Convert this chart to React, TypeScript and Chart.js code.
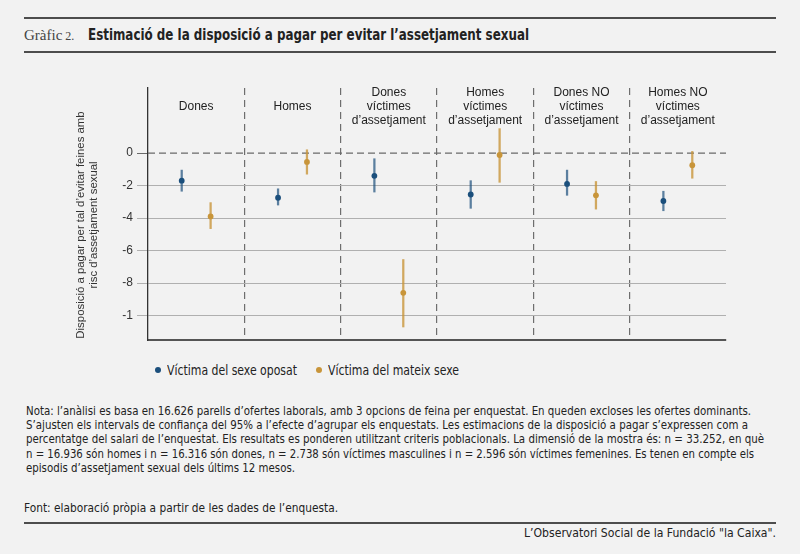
import { useEffect, useLayoutEffect, useRef } from "react";
import type { ReactNode, CSSProperties } from "react";
import { Chart, registerables } from "chart.js";

Chart.register(...registerables);

// panel headers (one panel per group)
const panels = [
  ["Dones"],
  ["Homes"],
  ["Dones", "víctimes", "d’assetjament"],
  ["Homes", "víctimes", "d’assetjament"],
  ["Dones NO", "víctimes", "d’assetjament"],
  ["Homes NO", "víctimes", "d’assetjament"],
];

// Víctima del sexe oposat
const oposat = [-1.7, -2.75, -1.4, -2.55, -1.9, -2.95];
const oposatLo = [-2.35, -3.2, -2.4, -3.4, -2.6, -3.55];
const oposatHi = [-1.05, -2.2, -0.35, -1.7, -1.05, -2.35];

// Víctima del mateix sexe
const mateix = [-3.9, -0.55, -8.6, -0.12, -2.6, -0.75];
const mateixLo = [-4.65, -1.3, -10.7, -1.8, -3.45, -1.55];
const mateixHi = [-3.05, 0.2, -6.55, 1.5, -1.75, 0.1];

const yTickValues = [0, -2, -4, -6, -8, -10];
const yTickLabels = ["0", "-2", "-4", "-6", "-8", "-1"];
const yTitle = ["Disposició a pagar per tal d’evitar feines amb", "risc d’assetjament sexual"];
const legendLabels = ["Víctima del sexe oposat", "Víctima del mateix sexe"];

const notes = [
  "Nota: l’anàlisi es basa en 16.626 parells d’ofertes laborals, amb 3 opcions de feina per enquestat. En queden excloses les ofertes dominants.",
  "S’ajusten els intervals de confiança del 95% a l’efecte d’agrupar els enquestats. Les estimacions de la disposició a pagar s’expressen com a",
  "percentatge del salari de l’enquestat. Els resultats es ponderen utilitzant criteris poblacionals. La dimensió de la mostra és: n = 33.252, en què",
  "n = 16.936 són homes i n = 16.316 són dones, n = 2.738 són víctimes masculines i n = 2.596 són víctimes femenines. Es tenen en compte els",
  "episodis d’assetjament sexual dels últims 12 mesos.",
];
const noteWidths = [725, 722, 738, 728, 269];
const source = "Font: elaboració pròpia a partir de les dades de l’enquesta.";
const footer = "L’Observatori Social de la Fundació \"la Caixa\".";

const BLUE = "#1b4f7c";
const GOLD = "#c8953a";
const BLUE_BAR = "rgba(27,79,124,0.7)";
const GOLD_BAR = "rgba(200,149,58,0.8)";
const OFF_B = 0.35;
const OFF_G = 0.65;
const HEADER_Y = 2.85;

const SANS = '"Liberation Sans", Arial, sans-serif';
const NARROW = '"Liberation Sans Narrow", "DejaVu Sans Condensed", "Roboto", sans-serif';

// squeeze a single line of text to a given width
function Fit({ width, children, style }: { width: number; children: ReactNode; style?: CSSProperties }) {
  const ref = useRef<HTMLSpanElement | null>(null);
  useLayoutEffect(() => {
    const el = ref.current;
    if (!el) return;
    el.style.transform = "none";
    const w = el.getBoundingClientRect().width;
    if (w > 0) el.style.transform = `scaleX(${width / w})`;
  }, [width]);
  return (
    <span
      ref={ref}
      style={{ display: "inline-block", transformOrigin: "left center", whiteSpace: "nowrap", ...style }}
    >
      {children}
    </span>
  );
}

const textPlugin = {
  id: "panelText",
  afterDraw(chart: any) {
    const { ctx, chartArea, scales } = chart;
    const x = scales.x;
    const y = scales.y;
    ctx.save();
    ctx.fillStyle = "#222";
    ctx.font = "12px " + SANS;
    ctx.textAlign = "center";
    ctx.textBaseline = "middle";
    const lh = 13.8;
    const yc = y.getPixelForValue(HEADER_Y);
    panels.forEach((lines, i) => {
      const cx = x.getPixelForValue(i + 0.5);
      const start = yc - ((lines.length - 1) * lh) / 2;
      lines.forEach((t, j) => ctx.fillText(t, cx, start + j * lh));
    });
    // y title
    ctx.fillStyle = "#333";
    ctx.font = "11.4px " + SANS;
    const my = (chartArea.top + chartArea.bottom) / 2 + 11;
    yTitle.forEach((t, j) => {
      ctx.save();
      ctx.translate(80.5 + j * 13.5, my);
      ctx.rotate(-Math.PI / 2);
      ctx.fillText(t, 0, 0);
      ctx.restore();
    });
    ctx.restore();
  },
};

function Plot() {
  const canvasRef = useRef<HTMLCanvasElement | null>(null);

  useEffect(() => {
    if (!canvasRef.current) return;
    const errBar = (lo: number[], hi: number[], off: number, color: string) => ({
      type: "bar" as const,
      data: lo.map((l, i) => ({ x: i + off, y: [l, hi[i]] })),
      backgroundColor: color,
      borderWidth: 0,
      barThickness: 1.6,
      grouped: false,
      order: 5,
    });
    const chart = new Chart(canvasRef.current, {
      type: "scatter",
      data: {
        datasets: [
          {
            type: "line",
            data: [
              { x: 0, y: 0 },
              { x: 6, y: 0 },
            ],
            borderColor: "#6a6a6a",
            borderWidth: 1.2,
            borderDash: [7, 4],
            pointRadius: 0,
            order: 10,
          },
          errBar(oposatLo, oposatHi, OFF_B, BLUE_BAR),
          errBar(mateixLo, mateixHi, OFF_G, GOLD_BAR),
          {
            label: legendLabels[0],
            data: oposat.map((v, i) => ({ x: i + OFF_B, y: v })),
            backgroundColor: BLUE,
            borderWidth: 0,
            pointRadius: 2.9,
            order: 1,
          },
          {
            label: legendLabels[1],
            data: mateix.map((v, i) => ({ x: i + OFF_G, y: v })),
            backgroundColor: GOLD,
            borderWidth: 0,
            pointRadius: 2.9,
            order: 1,
          },
        ] as any,
      },
      options: {
        animation: false,
        responsive: true,
        maintainAspectRatio: false,
        layout: { padding: { top: 28, right: 74, bottom: 20, left: 0 } },
        plugins: { legend: { display: false }, tooltip: { enabled: false } },
        scales: {
          x: {
            type: "linear",
            min: 0,
            max: 6,
            offset: false,
            afterBuildTicks: (axis: any) => {
              axis.ticks = [1, 2, 3, 4, 5].map((v) => ({ value: v }));
            },
            ticks: { display: false },
            grid: { color: "#6e6e6e", lineWidth: 1.2, drawTicks: false, offset: false },
            border: { display: true, color: "#555", width: 2, dash: [7, 5] },
          },
          y: {
            min: -11.5,
            max: 4,
            afterBuildTicks: (axis: any) => {
              axis.ticks = yTickValues.map((v) => ({ value: v }));
            },
            afterFit: (axis: any) => {
              axis.width = 148;
            },
            ticks: {
              color: "#333",
              padding: 4,
              font: { family: SANS, size: 12 },
              callback: (v: any) => yTickLabels[yTickValues.indexOf(Number(v))] ?? "",
            },
            grid: {
              color: (c: any) => (c.tick && c.tick.value === 0 ? "transparent" : "#b0b0b0"),
              tickColor: (c: any) => (c.tick && c.tick.value === 0 ? "#6a6a6a" : "#b0b0b0"),
              lineWidth: 1,
              tickLength: 11,
            },
            border: { display: true, color: "#333", width: 1.3 },
          },
        },
      },
      plugins: [textPlugin],
    });
    return () => chart.destroy();
  }, []);

  return (
    <div style={{ position: "absolute", left: 0, top: 60, width: 800, height: 300 }}>
      <canvas ref={canvasRef} />
    </div>
  );
}

export default function App() {
  useEffect(() => {
    document.body.style.margin = "0";
    document.body.style.background = "#f2f2f2";
  }, []);

  const rule = (top: number) => (
    <div style={{ position: "absolute", left: 24, top, width: 752, height: 2, background: "#4d4d4d" }} />
  );
  const dot = (color: string) => (
    <span style={{ display: "inline-block", width: 6, height: 6, borderRadius: 3, background: color }} />
  );

  return (
    <div
      style={{
        position: "relative",
        width: 800,
        height: 554,
        background: "#f2f2f2",
        overflow: "hidden",
        fontFamily: NARROW,
        color: "#222",
      }}
    >
      {rule(17)}
      <div style={{ position: "absolute", left: 24, top: 25, lineHeight: "20px", whiteSpace: "nowrap" }}>
        <span style={{ fontFamily: '"Liberation Serif", serif', fontSize: 15, color: "#444" }}>Gràfic</span>
        <span style={{ fontFamily: '"Liberation Serif", serif', fontSize: 12, color: "#444" }}> 2.</span>
      </div>
      <div style={{ position: "absolute", left: 88, top: 25, lineHeight: "20px", fontSize: 15, fontWeight: "bold" }}>
        <Fit width={441}>Estimació de la disposició a pagar per evitar l’assetjament sexual</Fit>
      </div>
      {rule(51)}

      <Plot />

      <div style={{ position: "absolute", left: 155, top: 361, width: 10, height: 18, display: "flex", alignItems: "center" }}>
        {dot(BLUE)}
      </div>
      <div style={{ position: "absolute", left: 166.5, top: 361, fontSize: 13.5, lineHeight: "18px" }}>
        <Fit width={130}>{legendLabels[0]}</Fit>
      </div>
      <div style={{ position: "absolute", left: 316, top: 361, width: 10, height: 18, display: "flex", alignItems: "center" }}>
        {dot(GOLD)}
      </div>
      <div style={{ position: "absolute", left: 327.5, top: 361, fontSize: 13.5, lineHeight: "18px" }}>
        <Fit width={131}>{legendLabels[1]}</Fit>
      </div>

      <div style={{ position: "absolute", left: 26, top: 404, fontSize: 12.8, lineHeight: "14.2px" }}>
        {notes.map((n, i) => (
          <div key={i}>
            <Fit width={noteWidths[i]}>{n}</Fit>
          </div>
        ))}
      </div>

      <div style={{ position: "absolute", left: 24, top: 500, fontSize: 12.8, lineHeight: "16px" }}>
        <Fit width={314}>{source}</Fit>
      </div>
      {rule(522)}
      <div style={{ position: "absolute", left: 524, top: 525, fontSize: 12.8, lineHeight: "16px" }}>
        <Fit width={252}>{footer}</Fit>
      </div>
    </div>
  );
}
